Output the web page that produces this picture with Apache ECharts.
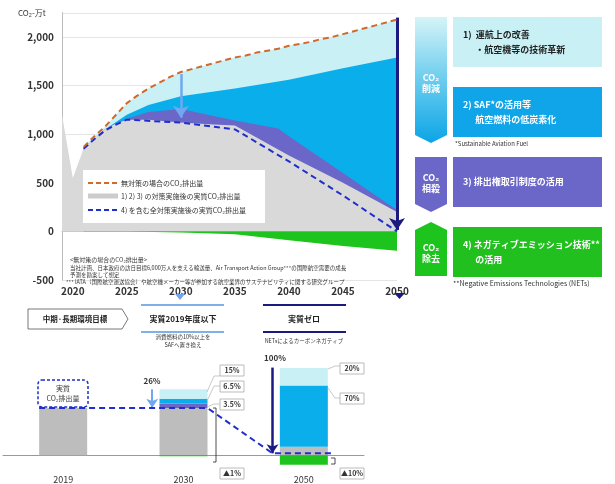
<!DOCTYPE html>
<html><head><meta charset="utf-8">
<script src="https://cdn.jsdelivr.net/npm/echarts@6/dist/echarts.min.js"></script>
<style>html,body{margin:0;padding:0;background:#fff}#c{width:615px;height:484px}</style>
</head><body><div id="c"></div>
<script>
const noMeasure=[[2021,870],[2022,980],[2023,1080],[2024,1200],[2025,1320],[2026,1400],[2027,1470],[2028,1530],[2029,1590],[2030,1640],[2031,1670],[2032,1700],[2033,1730],[2034,1760],[2035,1790],[2036,1810],[2037,1840],[2038,1860],[2039,1880],[2040,1910],[2041,1930],[2042,1950],[2043,1980],[2044,2000],[2045,2030],[2046,2060],[2047,2090],[2048,2120],[2049,2150],[2050,2180]];
const afterOps=[[2021,850],[2023,1050],[2025,1200],[2027,1300],[2030,1390],[2035,1470],[2040,1560],[2045,1680],[2050,1790]];
const afterSAF=[[2021,850],[2023,1050],[2025,1160],[2027,1230],[2030,1260],[2035,1140],[2039,1060],[2040,980],[2045,600],[2050,220]];
const afterTrade=[[2019,1200],[2020,550],[2021,850],[2022,960],[2023,1050],[2024,1110],[2025,1150],[2027,1150],[2030,1120],[2033,1100],[2035,1090],[2040,780],[2045,500],[2050,200]];
const removal=[[2025,0],[2030,-10],[2035,-30],[2040,-90],[2045,-150],[2050,-200]];
const netAll=[[2021,850],[2022,950],[2023,1040],[2024,1100],[2025,1150],[2030,1120],[2035,1050],[2040,720],[2045,370],[2050,0]];
const barCats=['2019','2030','2050'];
const barGray=[100,100,18];
const barPurple=[0,10,0];
const barBlue=[0,10,130];
const barCyan=[0,20,37];
const barGreen=[0,-2,-20];
const pathLine=[[-0.2,100],[1.2,100],[1.74,4],[2.25,4]];
const barLabels=['15%','6.5%','3.5%','▲1%','20%','70%','▲10%'];

const C={cyan:'#c8f0f5',blue:'#0aaeea',purple:'#6a67c9',gray:'#d9d9d9',green:'#1dc41d',orange:'#d0692a',navy:'#1f2ecc',dark:'#1a1a80'};
const chart=echarts.init(document.getElementById('c'));
const area=(d,c,z)=>({type:'line',data:d,symbol:'none',lineStyle:{width:0},areaStyle:{color:c,opacity:1},z:z,xAxisIndex:0,yAxisIndex:0,silent:true});
const F='"Noto Sans CJK JP",sans-serif';
const T=(x,y,t,o)=>Object.assign({type:'text',x:x,y:y,style:Object.assign({text:t,font:'7px '+F,fill:'#333'},o||{})});
function lbox(x,y,t){return [{type:'rect',shape:{x:x,y:y-5,width:24,height:11},style:{fill:'#fff',stroke:'#aaa',lineWidth:0.8}},T(x+12,y,t,{font:'bold 7px '+F,align:'center',verticalAlign:'middle'})];}
function lead(pts){return {type:'polyline',shape:{points:pts},style:{stroke:'#bbb',lineWidth:0.8,fill:null}};}
const g=[
 T(18,13,'CO₂-万t',{font:'8px '+F,verticalAlign:'middle'}),
 {type:'rect',shape:{x:83,y:170,width:182,height:53},style:{fill:'#fff'}},
 {type:'line',shape:{x1:88,y1:183,x2:118,y2:183},style:{stroke:C.orange,lineWidth:2,lineDash:[5,3]}},
 {type:'line',shape:{x1:88,y1:196,x2:118,y2:196},style:{stroke:'#ccc',lineWidth:5}},
 {type:'line',shape:{x1:88,y1:210,x2:118,y2:210},style:{stroke:C.navy,lineWidth:2,lineDash:[5,3]}},
 T(121,183,'無対策の場合のCO₂排出量',{verticalAlign:'middle'}),
 T(121,196,'1) 2) 3) の対策実施後の実質CO₂排出量',{verticalAlign:'middle'}),
 T(121,210,'4) を含む全対策実施後の実質CO₂排出量',{verticalAlign:'middle'}),
 T(70,257,'<無対策の場合のCO₂排出量>',{font:'6px '+F}),
 T(70,265,'当社計画、日本政府の訪日目標6,000万人を支える輸送量、Air Transport Action Group***の国際航空需要の成長',{font:'5.5px '+F}),
 T(70,272,'予測を勘案して想定',{font:'5.5px '+F}),
 T(66,279,'*** IATA（国際航空運送協会）や航空機メーカー等が参加する航空業界のサステナビリティに関する研究グループ',{font:'5.5px '+F}),
 {type:'polygon',shape:{points:[[415,17],[447,17],[447,135],[431,143],[415,135]]},style:{fill:new echarts.graphic.LinearGradient(0,0,0,1,[{offset:0,color:'#d6f4f8'},{offset:0.4,color:'#7fd4f0'},{offset:1,color:'#0aa5e6'}])}},
 {type:'polygon',shape:{points:[[415,157],[447,157],[447,204],[431,212],[415,204]]},style:{fill:C.purple}},
 {type:'polygon',shape:{points:[[415,230],[431,222],[447,230],[447,276],[415,276]]},style:{fill:C.green}},
 T(431,83,'CO₂\n削減',{font:'bold 9px '+F,fill:'#fff',align:'center',verticalAlign:'middle',lineHeight:11}),
 T(431,183,'CO₂\n相殺',{font:'bold 9px '+F,fill:'#fff',align:'center',verticalAlign:'middle',lineHeight:11}),
 T(431,253,'CO₂\n除去',{font:'bold 9px '+F,fill:'#fff',align:'center',verticalAlign:'middle',lineHeight:11}),
 {type:'rect',shape:{x:453,y:17,width:149,height:50},style:{fill:C.cyan}},
 {type:'rect',shape:{x:453,y:87,width:149,height:50},style:{fill:'#10a4e8'}},
 {type:'rect',shape:{x:453,y:157,width:149,height:50},style:{fill:C.purple}},
 {type:'rect',shape:{x:453,y:227,width:149,height:50},style:{fill:'#22c01f'}},
 T(463,42,'1)  運航上の改善\n      ・航空機等の技術革新',{font:'bold 9px '+F,fill:'#222',verticalAlign:'middle',lineHeight:15}),
 T(463,112,'2) SAF*の活用等\n      航空燃料の低炭素化',{font:'bold 9px '+F,fill:'#fff',verticalAlign:'middle',lineHeight:15}),
 T(463,182,'3) 排出権取引制度の活用',{font:'bold 9px '+F,fill:'#fff',verticalAlign:'middle'}),
 T(463,252,'4) ネガティブエミッション技術**\n      の活用',{font:'bold 9px '+F,fill:'#fff',verticalAlign:'middle',lineHeight:15}),
 T(455,144,'*Sustainable Aviation Fuel',{font:'6px '+F,verticalAlign:'middle'}),
 T(453,283,'**Negative Emissions Technologies (NETs)',{font:'7px '+F,verticalAlign:'middle'}),
 {type:'polygon',shape:{points:[[175,294],[185,294],[180,300]]},style:{fill:'#6fa8f0'}},
 {type:'polygon',shape:{points:[[394,293],[405,293],[399.5,299]]},style:{fill:C.dark}},
 {type:'polygon',shape:{points:[[28,309],[122,309],[128,319],[122,329],[28,329]]},style:{fill:'#fff',stroke:'#555',lineWidth:0.8}},
 T(75,319,'中期·長期環境目標',{font:'bold 7.5px '+F,fill:'#222',align:'center',verticalAlign:'middle'}),
 {type:'line',shape:{x1:141,y1:305,x2:224,y2:305},style:{stroke:'#7fb0ea',lineWidth:2}},
 {type:'line',shape:{x1:141,y1:332,x2:224,y2:332},style:{stroke:'#7fb0ea',lineWidth:2}},
 T(183,319,'実質2019年度以下',{font:'bold 8px '+F,fill:'#222',align:'center',verticalAlign:'middle'}),
 T(183,341,'消費燃料の10%以上を\nSAFへ置き換え',{font:'5.5px '+F,align:'center',verticalAlign:'middle',lineHeight:8}),
 {type:'line',shape:{x1:263,y1:305,x2:346,y2:305},style:{stroke:C.dark,lineWidth:2}},
 {type:'line',shape:{x1:263,y1:332,x2:346,y2:332},style:{stroke:C.dark,lineWidth:2}},
 T(304,319,'実質ゼロ',{font:'bold 8px '+F,fill:'#222',align:'center',verticalAlign:'middle'}),
 T(304,341,'NETsによるカーボンネガティブ',{font:'5.5px '+F,align:'center',verticalAlign:'middle'}),
 {type:'rect',shape:{x:38,y:380,width:50,height:27,r:4},style:{fill:'#fff',stroke:C.navy,lineWidth:1.5,lineDash:[3,2]}},
 T(63,393,'実質\nCO₂排出量',{font:'7px '+F,align:'center',verticalAlign:'middle',lineHeight:10}),
 T(152,381,'26%',{font:'bold 8px '+F,align:'center',verticalAlign:'middle'}),
 T(275,358,'100%',{font:'bold 8px '+F,align:'center',verticalAlign:'middle'}),
 lead([[207,392],[214,376],[220,376]]),lead([[207,401],[214,386],[220,386]]),lead([[207,407],[214,404],[220,404]]),
 lead([[328,369],[335,366],[340,366]]),lead([[328,388],[335,398],[340,398]]),
 {type:'polyline',shape:{points:[[213,408],[216,408],[216,462],[213,462]]},style:{stroke:'#222',lineWidth:0.8,fill:null}},
 {type:'polyline',shape:{points:[[331,458],[335,458],[335,464],[331,464]]},style:{stroke:'#222',lineWidth:0.8,fill:null}},
 ...lbox(220,370,barLabels[0]),...lbox(220,386,barLabels[1]),...lbox(220,404,barLabels[2]),...lbox(220,473,barLabels[3]),
 ...lbox(340,368,barLabels[4]),...lbox(340,398,barLabels[5]),...lbox(340,473,barLabels[6])
].map(e=>Object.assign(e,{z:100}));
const bar=(d,c,n)=>({type:'bar',name:n,data:d,stack:'b',xAxisIndex:1,yAxisIndex:1,barWidth:48,itemStyle:{color:c},silent:true});
chart.setOption({
 animation:false,
 grid:[{left:62,right:218,top:12.75,bottom:204},{left:3,right:251,top:361,bottom:8}],
 xAxis:[
  {type:'value',gridIndex:0,min:2019,max:2050,interval:1,axisTick:{show:false},splitLine:{show:false},axisLine:{onZero:true,onZeroAxisIndex:0,lineStyle:{color:'#bbb'}},
   axisLabel:{formatter:v=>v%5===0?String(v):'',color:'#333',fontSize:10,fontWeight:'bold',margin:6,fontFamily:F}},
  {type:'category',gridIndex:1,data:barCats,axisTick:{show:false},axisLine:{onZero:true,onZeroAxisIndex:1,lineStyle:{color:'#999'}},axisLabel:{color:'#333',fontSize:9,margin:8,fontFamily:F}},
  {type:'value',gridIndex:1,min:-0.5,max:2.5,show:false}
 ],
 yAxis:[
  {type:'value',gridIndex:0,min:-500,max:2250,interval:500,axisLine:{show:true,onZero:false,lineStyle:{color:'#bbb'}},axisTick:{show:false},
   splitLine:{lineStyle:{color:'#e4e4e4'}},axisLabel:{formatter:v=>v>2000?'':v.toLocaleString('en-US'),color:'#333',fontSize:10,fontWeight:'bold',fontFamily:F}},
  {type:'value',gridIndex:1,min:-25,max:200,show:false}
 ],
 graphic:g,
 series:[
  area(noMeasure,C.cyan,1),area(afterOps,C.blue,2),area(afterSAF,C.purple,3),area(afterTrade,C.gray,4),area(removal,C.green,5),
  {type:'line',data:netAll,symbol:'none',lineStyle:{color:C.navy,width:2,type:[6,4]},z:6},
  {type:'line',data:noMeasure,symbol:'none',lineStyle:{color:C.orange,width:2,type:[6,4]},z:7,
   markLine:{silent:true,symbol:['none','arrow'],symbolSize:12,label:{show:false},data:[
    [{coord:[2030,1620],lineStyle:{color:'#6fa8f0',width:2.5,type:'solid'}},{coord:[2030,1170]}],
    [{coord:[2050,2200],lineStyle:{color:C.dark,width:3,type:'solid'}},{coord:[2050,15]}]
   ]}},
  bar(barGray,'#bdbdbd','g'),bar(barPurple,C.purple,'p'),bar(barBlue,C.blue,'bl'),bar(barCyan,C.cyan,'c'),bar(barGreen,C.green,'gr'),
  {type:'line',xAxisIndex:2,yAxisIndex:1,data:pathLine,symbol:'none',lineStyle:{color:C.navy,width:2,type:[6,4]},z:8,
   markLine:{silent:true,symbol:['none','arrow'],symbolSize:9,label:{show:false},data:[
    [{coord:[0.74,140],lineStyle:{color:'#6fa8f0',width:2,type:'solid'}},{coord:[0.74,101]}],
    [{coord:[1.74,186],lineStyle:{color:C.dark,width:2.5,type:'solid'}},{coord:[1.74,4]}]
   ]}}
 ]
});
</script></body></html>
